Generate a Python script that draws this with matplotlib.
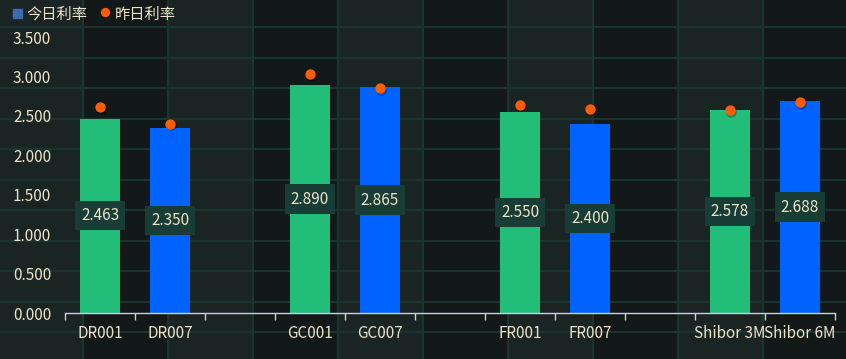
import matplotlib.pyplot as plt
from matplotlib.patches import Rectangle

categories = ["DR001", "DR007", "", "GC001", "GC007", "", "FR001", "FR007", "", "Shibor 3M", "Shibor 6M"]
today = [2.463, 2.350, None, 2.890, 2.865, None, 2.550, 2.400, None, 2.578, 2.688]
yesterday = [2.61, 2.40, None, 3.03, 2.85, None, 2.64, 2.59, None, 2.57, 2.67]
y_ticks = [0.0, 0.5, 1.0, 1.5, 2.0, 2.5, 3.0, 3.5]

GREEN = "#22bd79"
BLUE = "#0062ff"
ORANGE = "#ff5d05"
TEXT = "#efe3c6"

plt.rcParams["font.family"] = ["Noto Sans CJK SC", "DejaVu Sans"]

W, H = 846, 359
fig = plt.figure(figsize=(W / 100, H / 100), dpi=100)
fig.patch.set_facecolor("#121918")

# background grid pattern (pixel coordinates)
bg = fig.add_axes([0, 0, 1, 1])
bg.set_xlim(0, W)
bg.set_ylim(H, 0)
bg.axis("off")
edges = [0] + [83 + 85 * i for i in range(9)] + [W]
for i in range(len(edges) - 1):
    col = "#1a2523" if i % 2 == 0 else "#121918"
    bg.add_patch(Rectangle((edges[i], 0), edges[i + 1] - edges[i], H, color=col, lw=0))
for x in edges[1:-1]:
    bg.axvline(x, color="#1b3430", lw=1.6)
y = 27.0
while y < H:
    bg.axhline(y, color="#1b3430", lw=1.6)
    y += 30.5

ax = fig.add_axes([65 / W, 46 / H, 770 / W, 276 / H])
ax.patch.set_alpha(0)
ax.set_xlim(-0.5, len(categories) - 0.5)
ax.set_ylim(0, 3.5)

colors = [GREEN, BLUE]
k = 0
for i, v in enumerate(today):
    if v is None:
        continue
    c = colors[k % 2]
    k += 1
    ax.bar(i, v, width=0.56, color=c, zorder=2)
    ax.text(i, v / 2, f"{v:.3f}", ha="center", va="center", color=TEXT, fontsize=11,
            zorder=4, bbox=dict(boxstyle="square,pad=0.4", fc="#173d36", ec="none"))

xs = [i for i, v in enumerate(yesterday) if v is not None]
ys = [v for v in yesterday if v is not None]
ax.scatter([x + 0.01 for x in xs], [y - 0.02 for y in ys], s=60, color="#000000", alpha=0.25, lw=0, zorder=4)
ax.scatter(xs, ys, s=55, color=ORANGE, lw=0, zorder=5)

ax.set_xticks(range(len(categories)))
ax.set_xticklabels(categories)
ax.set_xticks([i - 0.5 for i in range(len(categories) + 1)], minor=True)
ax.tick_params(axis="x", which="major", length=0, pad=9, labelsize=11, labelcolor=TEXT)
ax.tick_params(axis="x", which="minor", length=5, width=1, color="#c8d2e2")
ax.set_yticks(y_ticks)
ax.set_yticklabels([f"{t:.3f}" for t in y_ticks])
ax.tick_params(axis="y", length=0, pad=10, labelsize=11, labelcolor=TEXT)
for s in ["top", "right", "left"]:
    ax.spines[s].set_visible(False)
ax.spines["bottom"].set_color("#c8d2e2")
ax.spines["bottom"].set_linewidth(1)

# legend
bg.add_patch(Rectangle((13, 9), 9, 9, color="#3a6db0"))
bg.text(26, 14, "今日利率", color=TEXT, fontsize=11, va="center", ha="left")
bg.scatter([105], [12], s=45, color=ORANGE, lw=0)
bg.text(115, 14, "昨日利率", color=TEXT, fontsize=11, va="center", ha="left")

fig.savefig("out.png", dpi=100, facecolor=fig.get_facecolor())
